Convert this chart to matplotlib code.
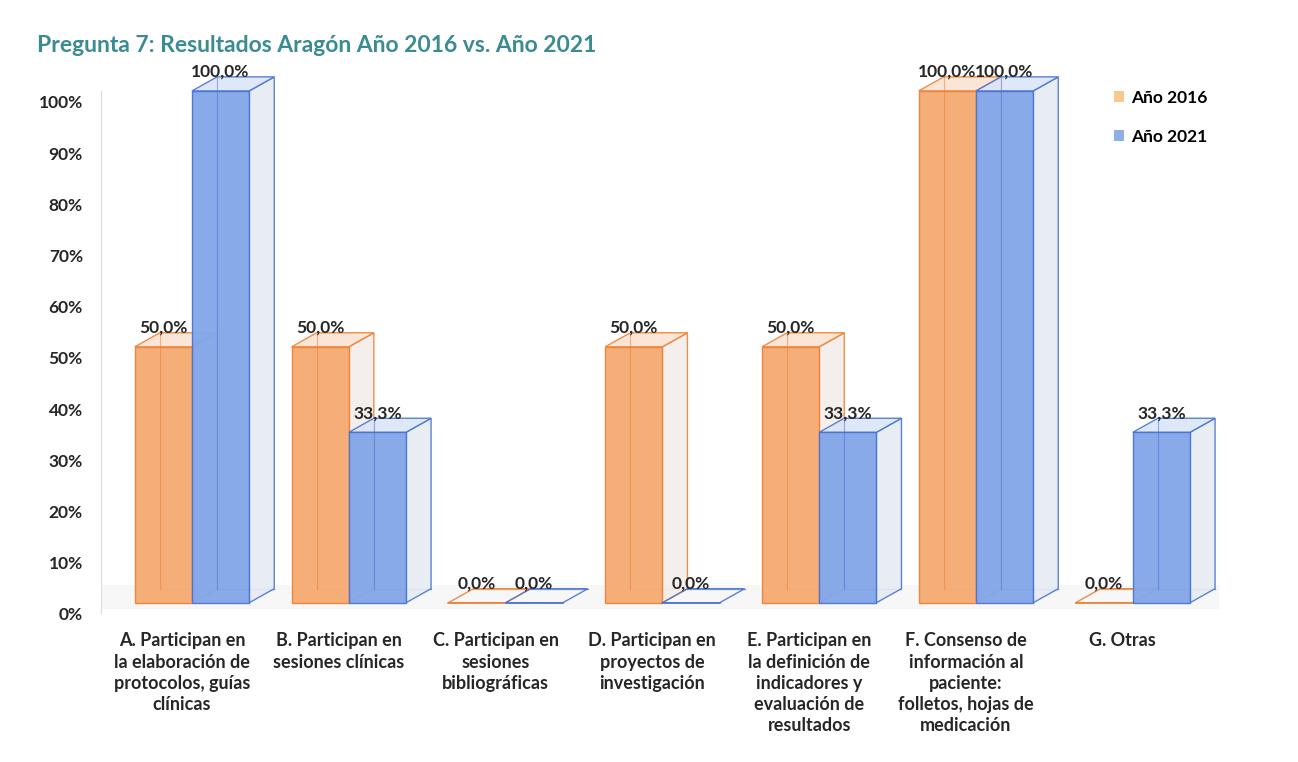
import matplotlib
matplotlib.use("Agg")
import matplotlib.pyplot as plt
import matplotlib.transforms as mtransforms
from matplotlib.patches import Polygon, Rectangle, Patch
import numpy as np

categories = [
    "A. Participan en\nla elaboración de\nprotocolos, guías\nclínicas",
    "B. Participan en\nsesiones clínicas",
    "C. Participan en\nsesiones\nbibliográficas",
    "D. Participan en\nproyectos de\ninvestigación",
    "E. Participan en\nla definición de\nindicadores y\nevaluación de\nresultados",
    "F. Consenso de\ninformación al\npaciente:\nfolletos, hojas de\nmedicación",
    "G. Otras",
]
series_names = ["Año 2016", "Año 2021"]
values_2016 = [50.0, 50.0, 0.0, 50.0, 50.0, 100.0, 0.0]
values_2021 = [100.0, 33.3, 0.0, 0.0, 33.3, 100.0, 33.3]
yticks = list(range(0, 101, 10))
title = "Pregunta 7: Resultados Aragón Año 2016 vs. Año 2021"

FONT = ["Lato", "DejaVu Sans"]
plt.rcParams["font.family"] = FONT

W, H = 1298, 762
fig = plt.figure(figsize=(W / 100, H / 100), dpi=100)
fig.patch.set_facecolor("white")

# axes placement (pixels)
xl_px, xr_px, yb_px, yt_px = 101, 1219, 613, 50
ax = fig.add_axes([xl_px / W, 1 - yb_px / H, (xr_px - xl_px) / W, (yb_px - yt_px) / H])
ax.set_xlim(-0.58, 6.55)
ax.set_ylim(-2, 108)

bw = 0.365
dx = 0.16
dy = 2.75

styles = [
    dict(front="#F6AA72", edge="#EE8236", top="#FBE3D2", side="#F3EEEA"),
    dict(front="#82A6E8", edge="#4A74D2", top="#DCE6F8", side="#E6EBF3"),
]

# floor band
xs = np.arange(len(categories))
floor = Polygon([(-0.58, -1.2), (6.55, -1.2), (6.55, dy + 0.8), (-0.58, dy + 0.8)],
                closed=True, facecolor="#EFEFEF", edgecolor="none", alpha=0.45, zorder=0)
ax.add_patch(floor)


def draw_bar(x0, v, st, z):
    # back edges (visible through transparency)
    ax.plot([x0 + dx, x0 + dx], [dy, v + dy], color=st["edge"], lw=0.9, alpha=0.7, zorder=z)
    ax.plot([x0 + dx, x0 + bw + dx], [dy, dy], color=st["edge"], lw=0.9, alpha=0.7, zorder=z)
    # side face
    if v > 0:
        side = Polygon([(x0 + bw, 0), (x0 + bw + dx, dy), (x0 + bw + dx, v + dy), (x0 + bw, v)],
                       closed=True, facecolor=st["side"], edgecolor=st["edge"], lw=1.0,
                       alpha=0.9, zorder=z + 0.1)
        ax.add_patch(side)
    # top face
    top = Polygon([(x0, v), (x0 + bw, v), (x0 + bw + dx, v + dy), (x0 + dx, v + dy)],
                  closed=True, facecolor=st["top"] if v > 0 else "none",
                  edgecolor=st["edge"], lw=1.0, alpha=0.9, zorder=z + 0.2)
    ax.add_patch(top)
    # front face
    if v > 0:
        front = Rectangle((x0, 0), bw, v, facecolor=st["front"], edgecolor=st["edge"],
                          lw=1.0, alpha=0.95, zorder=z + 0.3)
        ax.add_patch(front)
        ax.plot([x0 + dx, x0 + dx], [dy, v + dy], color=st["edge"], lw=0.8, alpha=0.5, zorder=z + 0.4)
    else:
        ax.plot([x0, x0 + bw], [0, 0], color=st["edge"], lw=1.2, zorder=z + 0.3)
    ax.text(x0 + bw / 2, v + dy + 1.0, f"{v:.1f}".replace(".", ",") + "%",
            ha="center", va="center", fontsize=12.5, fontweight="bold", color="#262626",
            zorder=20, family=FONT)


for i, (v16, v21) in enumerate(zip(values_2016, values_2021)):
    draw_bar(i - bw, v16, styles[0], 2 + i * 2)
    draw_bar(i, v21, styles[1], 3 + i * 2)

# axes styling
for s in ["top", "right", "bottom"]:
    ax.spines[s].set_visible(False)
ax.spines["left"].set_color("#DDDDDD")
ax.spines["left"].set_bounds(-2, 100)
ax.set_yticks(yticks)
ax.set_yticklabels([f"{t}%" for t in yticks], fontsize=12.5, fontweight="bold", color="#262626")
ax.tick_params(axis="y", length=0, pad=13)
off = mtransforms.ScaledTranslation(0, -11 / 100, fig.dpi_scale_trans)
for lab in ax.get_yticklabels():
    lab.set_transform(lab.get_transform() + off)

ax.set_xticks(xs)
ax.set_xticklabels(categories, fontsize=13, fontweight="bold", color="#262626",
                   linespacing=1.3, va="top", ha="center")
ax.tick_params(axis="x", length=0, pad=14)
offx = mtransforms.ScaledTranslation(-10 / 100, 0, fig.dpi_scale_trans)
for lab in ax.get_xticklabels():
    lab.set_transform(lab.get_transform() + offx)

# title
fig.text(37 / W, 1 - 45 / H, title, fontsize=16.5, fontweight="bold", color="#3A8C92",
         ha="left", va="center")

# legend
handles = [Patch(facecolor="#F7C98E", edgecolor="none"), Patch(facecolor="#8FAEE6", edgecolor="none")]
fig.legend(handles, series_names, loc="upper left", bbox_to_anchor=(1098 / W, 1 - 74 / H),
           frameon=False, prop=dict(weight="bold", size=12.5),
           handlelength=0.6, handleheight=0.6, handletextpad=0.4, labelspacing=1.35)

fig.savefig("out.png", dpi=100, facecolor="white")
